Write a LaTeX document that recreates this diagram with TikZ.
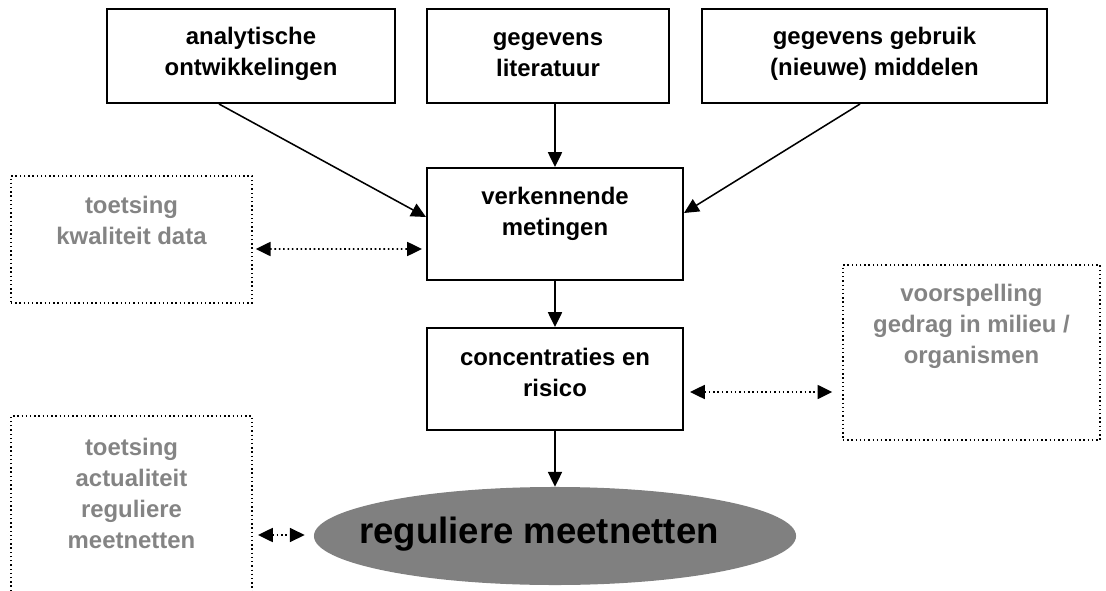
\documentclass[tikz,border=0pt]{standalone}
\usepackage{fontspec}
\setmainfont{Liberation Sans}
\usepackage{tikz}
\usetikzlibrary{arrows.meta,positioning,shapes.geometric,calc}
\definecolor{txtgray}{RGB}{132,132,132}
\definecolor{ovalgray}{RGB}{128,128,128}

\begin{document}
\begin{tikzpicture}[
x=0.025cm, y=-0.025cm,
box/.style={
    rectangle, draw,
    line width=1.4pt,
    inner sep=0pt
},
dotbox/.style={
    rectangle, draw, dotted,
    line width=1pt,
    inner sep=0pt
},
lbl/.style={
    anchor=north,
    inner sep=0pt,
    align=center,
    font=\fontsize{17}{22}\selectfont\bfseries
},
greylbl/.style={lbl, text=txtgray},
oval/.style={
    ellipse, fill=ovalgray,
    minimum width=12.05cm,
    minimum height=2.45cm,
    inner sep=0pt
},
bigtxt/.style={
    anchor=base,
    inner sep=0pt,
    font=\fontsize{26}{30}\selectfont\bfseries
},
arr/.style={-{Triangle[length=10.5pt,width=10pt]}, line width=1.1pt},
dblarr/.style={{Triangle[length=10.5pt,width=10pt]}-{Triangle[length=10.5pt,width=10pt]}, dotted, line width=1.1pt}
]
\useasboundingbox (0,0) rectangle (1106,591);

\node[box, minimum width=7.2cm, minimum height=2.35cm] (b1) at (251,56) {};
\node[box, minimum width=6.05cm, minimum height=2.35cm] (b2) at (548,56) {};
\node[box, minimum width=8.625cm, minimum height=2.35cm] (b3) at (874.5,56) {};
\node[box, minimum width=6.4cm, minimum height=2.8cm] (b4) at (555,224) {};
\node[box, minimum width=6.4cm, minimum height=2.55cm] (b5) at (555,379) {};
\node[oval] (reg) at (555,536) {};
\node[bigtxt] (regt) at (539,543) {reguliere meetnetten};

\node[dotbox, minimum width=6.025cm, minimum height=3.175cm] (d1) at (131.5,239.5) {};
\node[dotbox, minimum width=6.425cm, minimum height=4.375cm] (d2) at (971.5,352.5) {};
\draw[dotted, line width=1pt] (11,591) |- (252,416) -- (252,591);
\coordinate (d3e) at (252,535);

\node[lbl] (t1) at ($(b1.north)+(0,19)$) {analytische\\ontwikkelingen};
\node[lbl] (t2) at ($(b2.north)+(0,24)$) {gegevens\\literatuur};
\node[lbl] (t3) at ($(b3.north)+(0,19)$) {gegevens gebruik\\(nieuwe) middelen};
\node[lbl] (t4) at ($(b4.north)+(0,20)$) {verkennende\\metingen};
\node[lbl] (t5) at ($(b5.north)+(0,21)$) {concentraties en\\risico};
\node[greylbl] (g1) at ($(d1.north)+(0,21)$) {toetsing\\kwaliteit data};
\node[greylbl] (g2) at ($(d2.north)+(0,20)$) {voorspelling\\gedrag in milieu /\\organismen};
\node[greylbl] (g3) at (131.5,438) {toetsing\\actualiteit\\reguliere\\meetnetten};

\draw[arr] ($(b1.south)+(-32,0)$) -- ($(b4.west)+(0,-7)$);
\draw[arr] (b4.north |- b2.south) -- (b4.north);
\draw[arr] ($(b3.south)+(-14.5,0)$) -- ($(b4.east)+(0,-11)$);
\draw[arr] (b4) -- (b5);
\draw[arr] (b5) -- (reg);

\draw[dblarr] ($(d1.east)+(3,9.5)$) -- ($(b4.west)+(-4,25)$);
\draw[dblarr] ($(b5.east)+(6,13)$) -- ($(b5.east -| d2.west)+(-10,13)$);
\draw[dblarr] ($(d3e)+(6,0)$) -- ($(reg.west)+(-9,-1)$);

\end{tikzpicture}
\end{document}
